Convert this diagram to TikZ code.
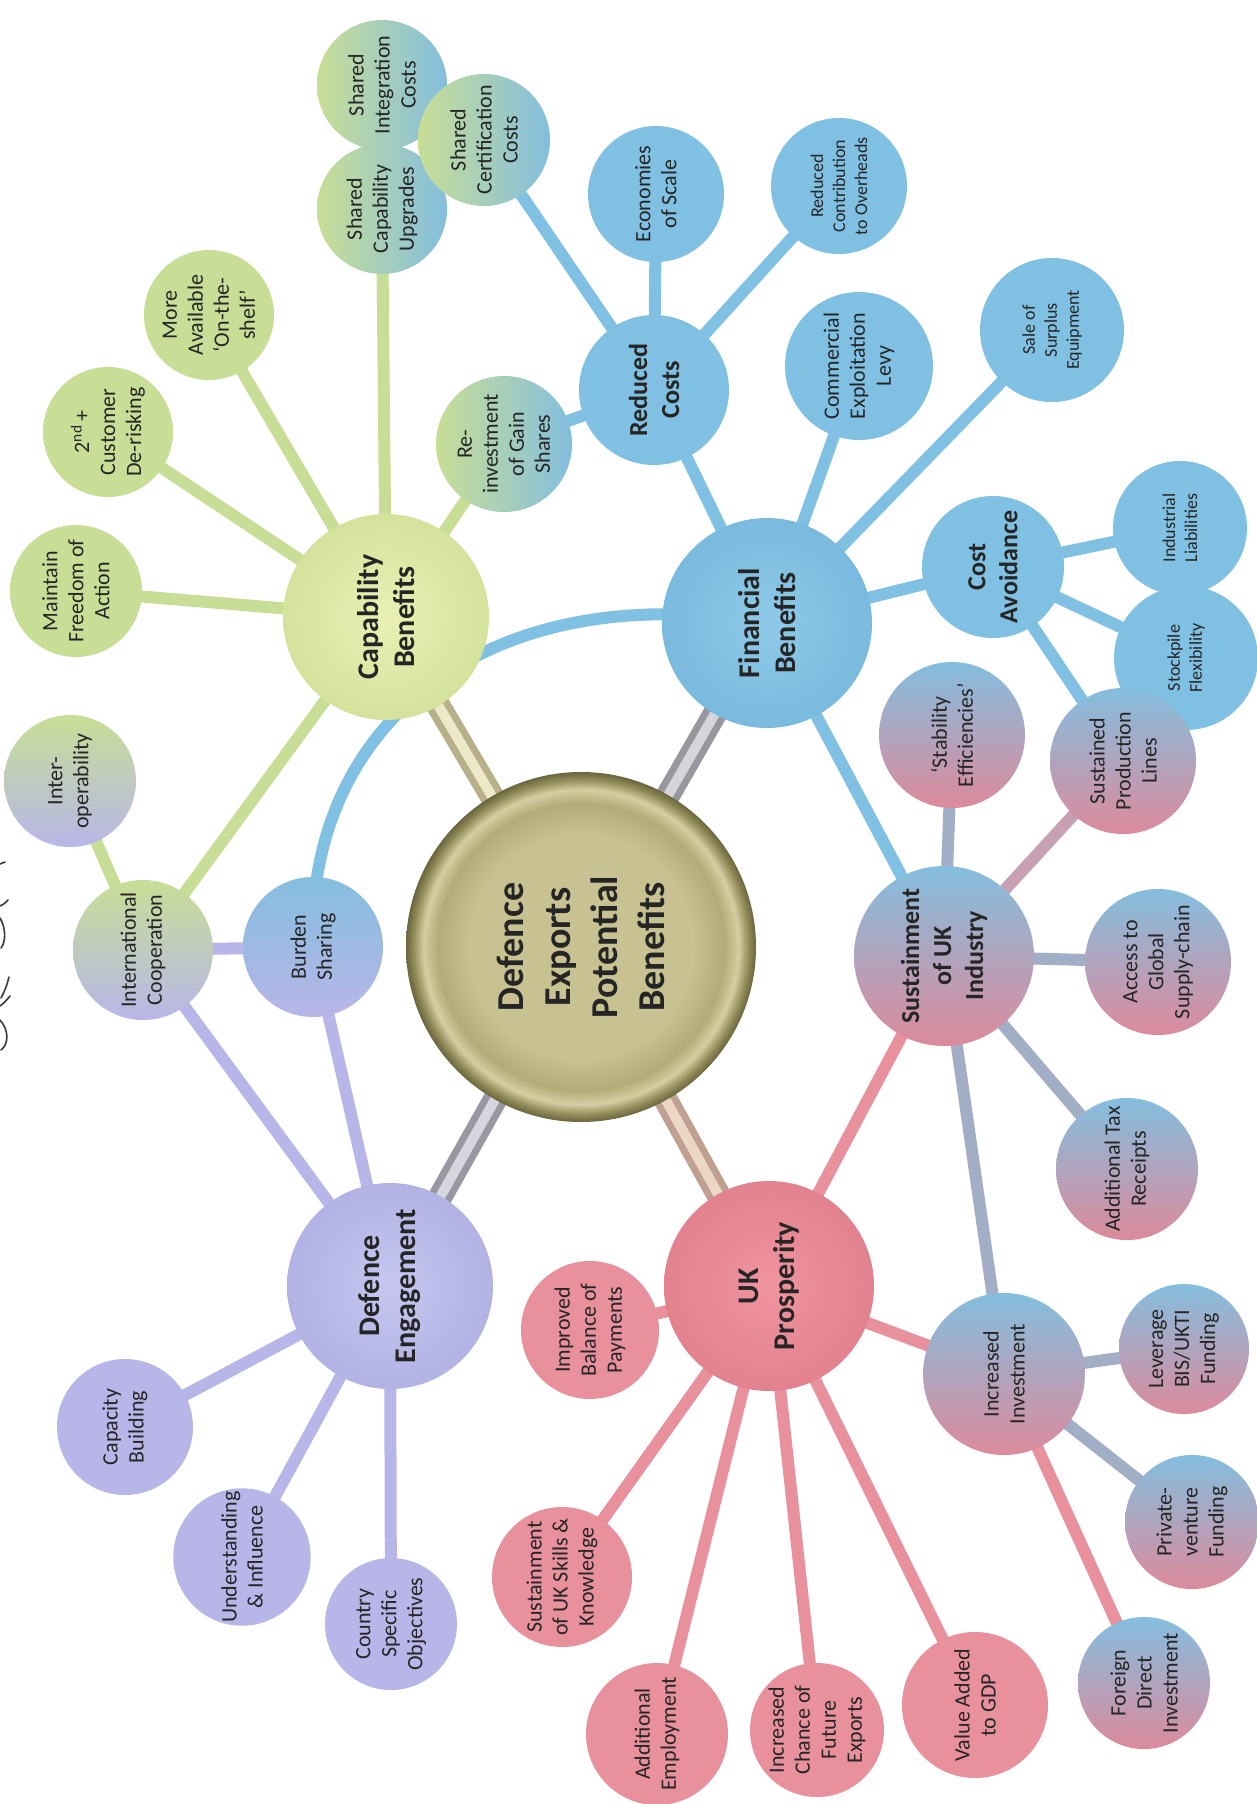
\documentclass[tikz,border=0pt]{standalone}
\usepackage{fontspec}
\setmainfont{Carlito}
\pgfdeclarelayer{bg}
\pgfsetlayers{bg,main}
\definecolor{grn}{HTML}{C8DE96}
\definecolor{blu}{HTML}{80C0E2}
\definecolor{lav}{HTML}{B8B6E8}
\definecolor{pnk}{HTML}{E8909C}
\definecolor{bluB}{HTML}{84BEDE}
\definecolor{pnkB}{HTML}{DC8A9C}
\definecolor{gry}{HTML}{A2AEC6}
\definecolor{gpk}{HTML}{C8A0B4}
\definecolor{txt}{HTML}{252525}
\definecolor{cenA}{HTML}{C8C292}
\definecolor{cenB}{HTML}{B2AC78}
\definecolor{cenC}{HTML}{D4CEA2}
\definecolor{cenD}{HTML}{908A58}
\definecolor{cenE}{HTML}{6A663E}
\definecolor{capI}{HTML}{EAF0B4}
\definecolor{capO}{HTML}{D4E29C}
\definecolor{finI}{HTML}{8ECAE8}
\definecolor{finO}{HTML}{7ABADE}
\definecolor{defI}{HTML}{C6C6F0}
\definecolor{defO}{HTML}{B2B2E4}
\definecolor{ukpI}{HTML}{F0949F}
\definecolor{ukpO}{HTML}{E2828E}
\definecolor{sCapO}{HTML}{B8B088}
\definecolor{sCapI}{HTML}{ECE8C8}
\definecolor{sFinO}{HTML}{96989E}
\definecolor{sFinI}{HTML}{D4D6DA}
\definecolor{sDefO}{HTML}{9898A2}
\definecolor{sDefI}{HTML}{D6D6DE}
\definecolor{sUkpO}{HTML}{C0A090}
\definecolor{sUkpI}{HTML}{ECD6C6}
\definecolor{ink}{HTML}{3A3A3A}
\pgfdeclareradialshading{cenball}{\pgfpoint{0bp}{0bp}}{color(0bp)=(cenA); color(16bp)=(cenA); color(20.5bp)=(cenB); color(22.5bp)=(cenC); color(24bp)=(cenD); color(25bp)=(cenE); color(50bp)=(cenE)}
\tikzset{
  nd/.style={circle, inner sep=0pt, align=center, rotate=90, text=txt,
    font=\fontsize{22}{26}\selectfont},
  sm/.style={font=\fontsize{18}{22}\selectfont},
  bd/.style={font=\fontsize{26}{32}\selectfont\bfseries},
  br/.style={font=\fontsize{30}{36}\selectfont\bfseries},
  sz/.style={minimum size=#1},
  gb/.style={left color=grn, right color=bluB},
  gl/.style={top color=grn, bottom color=lav},
  bl/.style={top color=bluB, bottom color=lav},
  bp/.style={top color=bluB, bottom color=pnkB},
  ln/.style={line width=12pt, line cap=round},
  spk/.style 2 args={line width=7pt, draw=#1, double=#2, double distance=10pt},
  scribble/.style={draw=ink, line width=1.6pt, line cap=round}
}
\begin{document}
\begin{tikzpicture}[x=1pt,y=-1pt]
\useasboundingbox (0,0) rectangle (1257,1804);
% central
\node[nd, sz=350pt, shading=cenball,
  font=\fontsize{38}{47}\selectfont\bfseries] (cen) at (581,947) {Defence\\Exports\\Potential\\Benefits};
% branch nodes
\node[nd, br, sz=206pt, inner color=capI, outer color=capO] (cap) at (386,617) {Capability\\Benefits};
\node[nd, br, sz=210pt, inner color=finI, outer color=finO] (fin) at (767,623) {Financial\\Benefits};
\node[nd, br, sz=206pt, inner color=defI, outer color=defO] (deng) at (390,1286) {Defence\\Engagement};
\node[nd, br, sz=210pt, inner color=ukpI, outer color=ukpO] (ukp) at (769,1286) {UK\\Prosperity};
\node[nd, bd, sz=180pt, bp] (sust) at (944,956) {Sustainment\\of UK\\Industry};
% capability leaves
\node[nd, sz=132pt, fill=grn] (maintain) at (76,591) {Maintain\\Freedom of\\Action};
\node[nd, sz=130pt, fill=grn] (cust) at (108,432) {2\textsuperscript{nd}\,+\\Customer\\De-risking};
\node[nd, sz=130pt, fill=grn] (more) at (209,315) {More\\Available\\`On-the-\\shelf'};
\node[nd, sz=130pt, gb] (sic) at (382,85) {Shared\\Integration\\Costs};
\node[nd, sz=130pt, gb] (scu) at (382,209) {Shared\\Capability\\Upgrades};
\node[nd, sz=132pt, gb] (scc) at (484,140) {Shared\\Certification\\Costs};
\node[nd, sz=130pt, gb] (reinv) at (504,444) {Re-\\investment\\of Gain\\Shares};
% financial leaves
\node[nd, bd, sz=150pt, fill=blu] (redc) at (654,390) {Reduced\\Costs};
\node[nd, sz=136pt, fill=blu] (econ) at (656,194) {Economies\\of Scale};
\node[nd, sm, sz=136pt, fill=blu] (rcto) at (839,186) {Reduced\\Contribution\\to Overheads};
\node[nd, sz=148pt, fill=blu] (cel) at (859,366) {Commercial\\Exploitation\\Levy};
\node[nd, sm, sz=144pt, fill=blu] (sale) at (1052,330) {Sale of\\Surplus\\Equipment};
\node[nd, bd, sz=142pt, fill=blu] (cav) at (993,567) {Cost\\Avoidance};
\node[nd, sm, sz=134pt, fill=blu] (indl) at (1180,528) {Industrial\\Liabilities};
\node[nd, sm, sz=144pt, fill=blu] (stock) at (1186,658) {Stockpile\\Flexibility};
% sustainment leaves
\node[nd, sz=146pt, bp] (stab) at (952,735) {`Stability\\Efficiencies'};
\node[nd, sz=146pt, bp] (spl) at (1123,761) {Sustained\\Production\\Lines};
\node[nd, sz=146pt, bp] (access) at (1158,962) {Access to\\Global\\Supply-chain};
\node[nd, sz=142pt, bp] (tax) at (1127,1169) {Additional Tax\\Receipts};
\node[nd, sz=162pt, bp] (incinv) at (1004,1374) {Increased\\Investment};
\node[nd, sz=130pt, bp] (lev) at (1184,1349) {Leverage\\BIS/UKTI\\Funding};
\node[nd, sz=134pt, bp] (pvf) at (1192,1522) {Private-\\venture\\Funding};
\node[nd, sz=132pt, bp] (fdi) at (1144,1683) {Foreign\\Direct\\Investment};
% prosperity leaves
\node[nd, sz=146pt, fill=pnk] (vag) at (975,1705) {Value Added\\to GDP};
\node[nd, sz=134pt, fill=pnk] (icfe) at (817,1730) {Increased\\Chance of\\Future\\Exports};
\node[nd, sz=142pt, fill=pnk] (addemp) at (657,1734) {Additional\\Employment};
\node[nd, sz=140pt, fill=pnk] (skills) at (562,1577) {Sustainment\\of UK Skills \&\\Knowledge};
\node[nd, sz=138pt, fill=pnk] (ibp) at (590,1330) {Improved\\Balance of\\Payments};
% defence engagement leaves
\node[nd, sz=136pt, fill=lav] (capb) at (125,1427) {Capacity\\Building};
\node[nd, sz=136pt, fill=lav] (und) at (242,1557) {Understanding\\\& Influence};
\node[nd, sz=132pt, fill=lav] (csobj) at (391,1624) {Country\\Specific\\Objectives};
% shared nodes
\node[nd, sz=140pt, bl] (burden) at (313,947) {Burden\\Sharing};
\node[nd, sz=140pt, gl] (intl) at (143,950) {International\\Cooperation};
\node[nd, sz=132pt, gl] (interop) at (70,781) {Inter-\\operability};

% handwritten marks at the left edge
\draw[scribble] (0,864) -- (5,862);
\draw[scribble] (8,900) .. controls (4,904) .. (0,906);
\draw[scribble] (0,918) .. controls (6,928) and (6,942) .. (1,948);
\draw[scribble] (9,977) .. controls (6,988) .. (1,998);
\draw[scribble] (10,996) .. controls (5,1002) .. (0,1006);
\draw[scribble] (0,1020) .. controls (9,1030) and (9,1044) .. (1,1050);

\begin{pgfonlayer}{bg}
\fill[white] (0,0) rectangle (1257,1804);
% spokes
\draw[spk={sCapO}{sCapI}] (cen.center) -- (cap.center);
\draw[spk={sFinO}{sFinI}] (cen.center) -- (fin.center);
\draw[spk={sDefO}{sDefI}] (cen.center) -- (deng.center);
\draw[spk={sUkpO}{sUkpI}] (cen.center) -- (ukp.center);
% capability links
\draw[ln, grn] (cap.center) -- (maintain.center);
\draw[ln, grn] (cap.center) -- (cust.center);
\draw[ln, grn] (cap.center) -- (more.center);
\draw[ln, grn] (cap.center) -- (scu.center);
\draw[ln, grn] (cap.center) -- (reinv.center);
\draw[ln, grn] (cap.center) -- (intl.center);
\draw[ln, grn] (intl.center) -- (interop.center);
% financial links
\draw[ln, blu] (fin.center) -- (redc.center);
\draw[ln, blu] (fin.center) -- (cel.center);
\draw[ln, blu] (fin.center) -- (sale.center);
\draw[ln, blu] (fin.center) -- (cav.center);
\draw[ln, blu] (fin.center) -- (sust.center);
\draw[ln, blu] (redc.center) -- (econ.center);
\draw[ln, blu] (redc.center) -- (rcto.center);
\draw[ln, blu] (redc.center) -- (scc.center);
\draw[ln, blu] (redc.center) -- (reinv.center);
\draw[ln, blu] (cav.center) -- (indl.center);
\draw[ln, blu] (cav.center) -- (stock.center);
\draw[ln, blu] (cav.center) -- (spl.center);
\draw[ln, blu] (burden.center) .. controls (305,730) and (480,575) .. (fin.center);
% sustainment links
\draw[ln, gry] (sust.center) -- (stab.center);
\draw[ln, gpk] (sust.center) -- (spl.center);
\draw[ln, gry] (sust.center) -- (access.center);
\draw[ln, gry] (sust.center) -- (tax.center);
\draw[ln, gry] (sust.center) -- (incinv.center);
\draw[ln, pnk] (sust.center) -- (ukp.center);
% investment links
\draw[ln, gry] (incinv.center) -- (lev.center);
\draw[ln, gry] (incinv.center) -- (pvf.center);
\draw[ln, pnk] (incinv.center) -- (fdi.center);
% prosperity links
\draw[ln, pnk] (ukp.center) -- (incinv.center);
\draw[ln, pnk] (ukp.center) -- (vag.center);
\draw[ln, pnk] (ukp.center) -- (icfe.center);
\draw[ln, pnk] (ukp.center) -- (addemp.center);
\draw[ln, pnk] (ukp.center) -- (skills.center);
\draw[ln, pnk] (ukp.center) -- (ibp.center);
% defence engagement links
\draw[ln, lav] (deng.center) -- (capb.center);
\draw[ln, lav] (deng.center) -- (und.center);
\draw[ln, lav] (deng.center) -- (csobj.center);
\draw[ln, lav] (deng.center) -- (burden.center);
\draw[ln, lav] (deng.center) -- (intl.center);
\draw[ln, lav] (burden.center) -- (intl.center);
\end{pgfonlayer}
\end{tikzpicture}
\end{document}
